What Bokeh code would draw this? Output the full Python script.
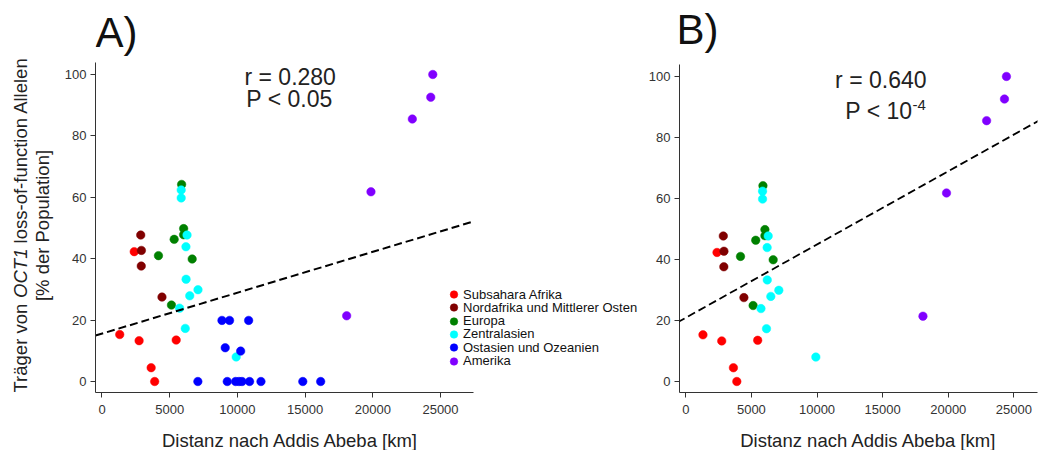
import numpy as np
from bokeh.plotting import figure
from bokeh.models import Label, Legend, LegendItem, Slope, FixedTicker
from bokeh.layouts import row, column
from bokeh.embed import file_html
from bokeh.resources import INLINE

# ---------------- data ----------------
regions = ["Subsahara Afrika", "Nordafrika und Mittlerer Osten", "Europa",
           "Zentralasien", "Ostasien und Ozeanien", "Amerika"]
colors = ["#FF0000", "#800000", "#008000", "#00FFFF", "#0000FF", "#8000FF"]

dist_subsahara = [1310, 2380, 2740, 3630, 3890, 5480]
pct_subsahara = [15.3, 42.3, 13.3, 4.5, 0.0, 13.5]

dist_nordafrika = [2860, 2910, 2900, 4430]
pct_nordafrika = [47.7, 42.7, 37.6, 27.5]

dist_europa = [5880, 6030, 6030, 5330, 4170, 6660, 5130]
pct_europa = [64.2, 49.8, 47.8, 46.3, 41.0, 39.9, 24.9]

dist_zentralasien = [5850, 5850, 6280, 6200, 6210, 7090, 6480, 5730, 6150, 9910]
pct_zentralasien = [62.4, 59.8, 47.7, 43.9, 33.3, 29.9, 27.9, 23.9, 17.3, 8.0]

dist_ostasien = [8860, 9420, 10830, 9100, 10240, 7080, 9250, 9870, 10120,
                 10340, 10900, 11740, 14830, 16150]
pct_ostasien = [19.9, 19.9, 19.9, 11.0, 9.9, 0, 0, 0, 0, 0, 0, 0, 0, 0]

dist_amerika = [18070, 19865, 22920, 24280, 24430]
pct_amerika = [21.4, 61.8, 85.5, 92.6, 100.0]

x_ticks = [0, 5000, 10000, 15000, 20000, 25000]
y_ticks = [0, 20, 40, 60, 80, 100]

# regression lines: (intercept, slope per km)
fit_a = (15.6, 0.001332)
fit_b = (20.9, 0.002402)

stats_a = ["r = 0.280", "P < 0.05"]
stats_b = ["r = 0.640", "P < 10", "-4"]

x_title = "Distanz nach Addis Abeba [km]"
y_title_1 = ["Träger von", "OCT1", "loss-of-function Allelen"]
y_title_2 = "[% der Population]"

groups = [
    (dist_subsahara, pct_subsahara),
    (dist_nordafrika, pct_nordafrika),
    (dist_europa, pct_europa),
    (dist_zentralasien, pct_zentralasien),
    (dist_ostasien, pct_ostasien),
    (dist_amerika, pct_amerika),
]

FONT = "Liberation Sans"
AX = "#333333"
TXT = "#222222"
H_TOP = 420

# axis extents (R-style L box) and frame ranges
xbounds_a = (-480, 27440)
xrange_a = (-480, 40140)
xbounds_b = (-477, 26796)
xrange_b = (-477, 26796)
yrange_a = (-3.58, 124.1)
yrange_b = (-3.61, 124.9)


def bare_fig(width, height):
    p = figure(width=width, height=height, x_axis_type=None, y_axis_type=None,
               output_backend="svg", toolbar_location=None, min_border=0,
               x_range=(0, 1), y_range=(0, 1))
    p.outline_line_color = None
    p.grid.visible = False
    return p


def make_fig(width, bl, br, xr, xb, yr):
    p = figure(width=width, height=H_TOP, x_range=xr, y_range=yr,
               output_backend="svg", toolbar_location=None,
               min_border_left=bl, min_border_right=br,
               min_border_top=0, min_border_bottom=28)
    p.outline_line_color = None
    p.grid.visible = False
    for ax in (p.xaxis[0], p.yaxis[0]):
        ax.axis_line_color = AX
        ax.axis_line_width = 1
        ax.major_tick_line_color = AX
        ax.major_tick_in = 0
        ax.major_tick_out = 5
        ax.minor_tick_line_color = None
        ax.major_label_text_font = FONT
        ax.major_label_text_font_size = "13px"
        ax.major_label_text_color = AX
    p.xaxis.ticker = FixedTicker(ticks=x_ticks)
    p.yaxis.ticker = FixedTicker(ticks=y_ticks)
    p.xaxis.bounds = xb
    p.yaxis.bounds = (yr[0], 104)
    p.xaxis.major_label_standoff = 7
    p.yaxis.major_label_standoff = 4
    return p


def lab(p, x, y, text, fs, align="left", angle=0.0, style="normal", color=TXT,
        on_baseline=True):
    # y is the text baseline (screen px above frame bottom); draw with middle baseline
    yy = y + 0.3465 * fs if on_baseline else y
    p.add_layout(Label(x=x, y=yy, x_units="screen", y_units="screen", text=text,
                       angle=angle, text_font=FONT, text_font_size=f"{fs}px",
                       text_font_style=style, text_color=color,
                       text_align=align, text_baseline="middle"))


# ---------------- y-axis title strip (frame aligned with panel frames) ----------------
pT = bare_fig(56, H_TOP)
ang = np.pi / 2
seg_y = [0.0, 94.6, 149.1]
for txt, yy, style in zip(y_title_1, seg_y, ["normal", "italic", "normal"]):
    lab(pT, 19.5, yy, txt, 18.5, angle=ang, style=style, on_baseline=False)
lab(pT, 42, 167, y_title_2, 18.5, align="center", angle=ang, on_baseline=False)

# ---------------- Panel A ----------------
pA = make_fig(589, 39, 0, xrange_a, xbounds_a, yrange_a)
renderers = []
for (xs, ys), c in zip(groups, colors):
    r = pA.scatter(xs, ys, size=8.5, fill_color=c, line_color=c, line_width=0.5)
    renderers.append(r)
fit_x = list(xbounds_a)
fit_y = [fit_a[0] + fit_a[1] * v for v in fit_x]
pA.line(fit_x, fit_y, line_color="black", line_width=2, line_dash="8 4")

for i, (name, r) in enumerate(zip(regions, renderers)):
    lg = Legend(items=[LegendItem(label=name, renderers=[r])],
                location=(349, 88 - 13.33 * i), orientation="vertical",
                glyph_width=19, glyph_height=20, label_height=20, spacing=0,
                label_standoff=0, padding=0, margin=0,
                border_line_color=None, background_fill_alpha=0,
                label_text_font=FONT, label_text_font_size="13px",
                label_text_color="#111111")
    pA.add_layout(lg, "center")

lab(pA, 0, 345, "A)", 42, color="#111111")
lab(pA, 194.7, 307.7, stats_a[0], 23, align="center")
lab(pA, 194, 286, stats_a[1], 23, align="center")

# ---------------- Panel B ----------------
pB = make_fig(393, 32, 1, xrange_b, xbounds_b, yrange_b)
for i, ((xs, ys), c) in enumerate(zip(groups, colors)):
    if regions[i] == "Ostasien und Ozeanien":
        continue
    pB.scatter(xs, ys, size=8.5, fill_color=c, line_color=c, line_width=0.5)
pB.add_layout(Slope(gradient=fit_b[1], y_intercept=fit_b[0], line_color="black",
                    line_width=1.8, line_dash="8 4"))

lab(pB, -3, 348.7, "B)", 42, color="#111111")
lab(pB, 201.3, 304.7, stats_b[0], 23, align="center")
lab(pB, 233, 273.7, stats_b[1], 23, align="right")
lab(pB, 233, 282, stats_b[2], 15, align="left")

# ---------------- x-axis titles strip ----------------
pX = bare_fig(1038, 30)
lab(pX, 290, 4, x_title, 18.5, align="center")
lab(pX, 868.3, 4, x_title, 18.5, align="center")

layout = column(row(pT, pA, pB), pX)
open("out.html", "w").write(file_html(layout, INLINE))
